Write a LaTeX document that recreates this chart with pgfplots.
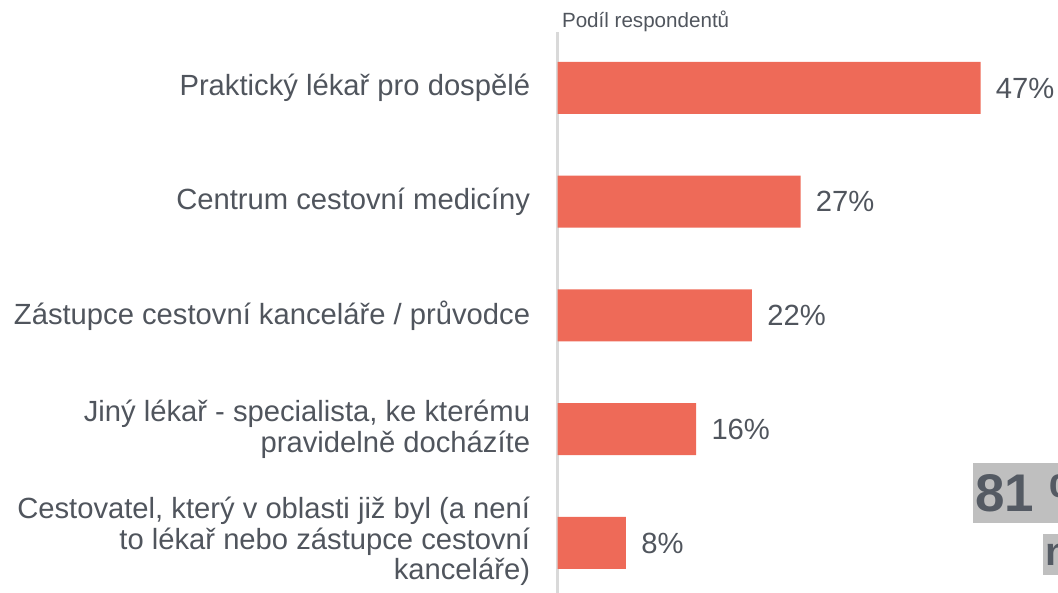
\documentclass[border=0pt]{standalone}
\usepackage{pgfplots}
\pgfplotsset{compat=1.18}
\usepackage{fontspec}
\setmainfont{Liberation Sans}
\definecolor{barc}{HTML}{EE6A58}
\definecolor{txt}{HTML}{50555D}
\definecolor{axc}{HTML}{D9D9D9}
\definecolor{boxc}{HTML}{BFBFBF}
\definecolor{boxt}{HTML}{545A63}
\begin{document}
\begin{tikzpicture}
\useasboundingbox (0,0) rectangle (529pt,296.5pt);
\clip (0,0) rectangle (529pt,296.5pt);
\begin{axis}[
  at={(278.75pt,0pt)}, anchor=south west,
  scale only axis, width=225pt, height=280.5pt,
  xmin=0, xmax=50, ymin=-0.4396, ymax=4.4923,
  xbar, bar width=26pt,
  axis x line=none, axis y line*=left,
  y axis line style={draw=axc, line width=1.2pt, -},
  ytick={0,1,2,3,4},
  yticklabels={
    {\raisebox{7.25pt}{\begin{tabular}{@{}r@{}}Cestovatel, který v oblasti již byl (a není\\to lékař nebo zástupce cestovní\\kanceláře)\end{tabular}}},
    {Jiný lékař - specialista, ke kterému\\pravidelně docházíte},
    {Zástupce cestovní kanceláře / průvodce},
    {Centrum cestovní medicíny},
    {Praktický lékař pro dospělé}},
  major tick length=0pt,
  yticklabel style={font=\fontsize{14.6}{15.3}\selectfont, text=txt, align=right, inner sep=0pt, xshift=-13.5pt},
  point meta=explicit,
  nodes near coords={\pgfmathprintnumber{\pgfplotspointmeta}\%},
  nodes near coords style={font=\fontsize{14.6}{15.3}\selectfont, text=txt, anchor=west, inner sep=0pt, xshift=7.5pt},
  /pgf/number format/assume math mode=true,
  clip=false,
]
\addplot[fill=barc, draw=none] coordinates {(7.6,0)[8] (15.4,1)[16] (21.6,2)[22] (27,3)[27] (47,4)[47]};
\end{axis}
\node[anchor=base west, inner sep=0pt, font=\fontsize{10.3}{12}\selectfont, text=txt] at (280.8pt,282.5pt) {Podíl respondentů};
\node[fill=boxc, anchor=west, inner xsep=1pt, inner ysep=0pt, minimum height=30pt, text=boxt, font=\bfseries\fontsize{26.5}{26.5}\selectfont] at (486.5pt,50pt) {81 \%};
\node[fill=boxc, anchor=west, inner xsep=1pt, inner ysep=0pt, minimum height=20.5pt, text=boxt, font=\bfseries\fontsize{20}{20}\selectfont] at (521.5pt,19.25pt) {n\hspace{20pt}};
\end{tikzpicture}
\end{document}
